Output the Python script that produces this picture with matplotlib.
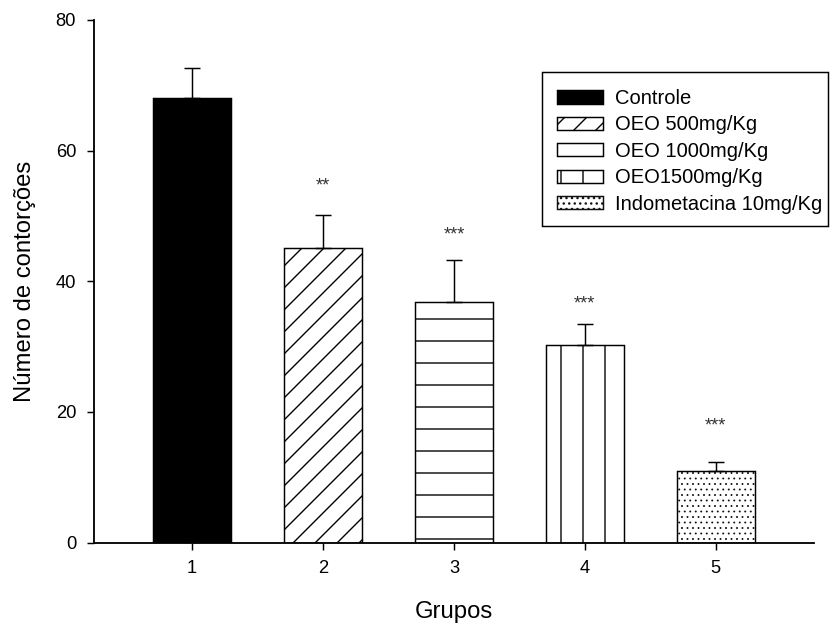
import matplotlib
matplotlib.use("Agg")
import matplotlib.pyplot as plt
from matplotlib.patches import Rectangle

plt.rcParams['font.family'] = ['Liberation Sans', 'DejaVu Sans']
plt.rcParams['hatch.linewidth'] = 0.75

# ---- data ----
groups = [1, 2, 3, 4, 5]
tick_labels = ['1', '2', '3', '4', '5']
series_names = ['Controle', 'OEO 500mg/Kg', 'OEO 1000mg/Kg', 'OEO1500mg/Kg',
                'Indometacina 10mg/Kg']
means = [68.0, 45.1, 36.8, 30.2, 11.0]
sem = [4.6, 5.0, 6.5, 3.2, 1.4]
significance = ['', '**', '***', '***', '***']
sig_y = [0, 53.9, 46.4, 35.8, 17.2]

# ---- styles ----
facecolors = ['black', 'white', 'white', 'white', 'white']
hatches = [None, '//', '-', '|', '....']
hatch_colors = ['black', 'black', 'black', 'black', '#111111']
hatch_lw = [0.75, 0.75, 0.75, 0.75, 0.45]

W, H, DPI = 830, 629, 132
fig = plt.figure(figsize=(W / DPI, H / DPI), dpi=DPI)
ax = fig.add_axes([94 / W, 1 - 542.5 / H, (814 - 94) / W, (542.5 - 20) / H])

handles = []
for g, m, fc, h, hc, hl, name in zip(groups, means, facecolors, hatches,
                                      hatch_colors, hatch_lw, series_names):
    with plt.rc_context({'hatch.linewidth': hl}):
        # hatch layer (its edge colour sets the hatch colour)
        b = ax.bar(g, m, width=0.6, color=fc, edgecolor=hc, linewidth=0,
                   hatch=h, zorder=2)
        for p in b.patches:
            try:
                p.set_hatch_linewidth(hl)
            except AttributeError:
                pass
    # black outline
    ax.bar(g, m, width=0.6, fill=False, edgecolor='black', linewidth=0.8,
           zorder=2.5)
    with plt.rc_context({'hatch.linewidth': hl}):
        hp = Rectangle((0, 0), 1, 1, facecolor=fc, edgecolor=hc, hatch=h,
                       linewidth=0.8, label=name)
        try:
            hp.set_hatch_linewidth(hl)
        except AttributeError:
            pass
    handles.append(hp)

ax.errorbar(groups, means, yerr=[[0] * len(sem), sem], fmt='none',
            ecolor='black', elinewidth=0.8, capsize=4.4, capthick=0.8, zorder=3)

for g, s, y in zip(groups, significance, sig_y):
    if s:
        ax.text(g, y, s, ha='center', va='baseline', fontsize=10, color='#333333')

ax.set_xlim(0.25, 5.75)
ax.set_ylim(0, 80)
ax.set_xticks(groups)
ax.set_xticklabels(tick_labels)
ax.set_yticks([0, 20, 40, 60, 80])
ax.spines['top'].set_visible(False)
ax.spines['right'].set_visible(False)
for sp in ['left', 'bottom']:
    ax.spines[sp].set_linewidth(1.0)
ax.tick_params(axis='both', direction='out', length=3.8, width=0.8,
               labelsize=10, pad=6)

ax.set_xlabel('Grupos', fontsize=13)
ax.set_ylabel('Número de contorções', fontsize=13)
ax.xaxis.set_label_coords((454 - 94) / 720, -0.112)
ax.yaxis.set_label_coords((36 - 94) / 720, 0.5)

leg = ax.legend(handles=handles, loc='upper left',
                bbox_to_anchor=(557 / W, 1 - 89 / H),
                bbox_transform=fig.transFigure, frameon=False, fontsize=11,
                borderpad=0, handlelength=2.28, handleheight=0.64,
                handletextpad=0.6, labelspacing=0.37, borderaxespad=0)

fig.patches.append(Rectangle((542 / W, 1 - 226 / H), (828 - 542) / W,
                             (226 - 72) / H, transform=fig.transFigure,
                             fill=False, edgecolor='black', linewidth=0.8))

fig.savefig('out.png', dpi=DPI)
